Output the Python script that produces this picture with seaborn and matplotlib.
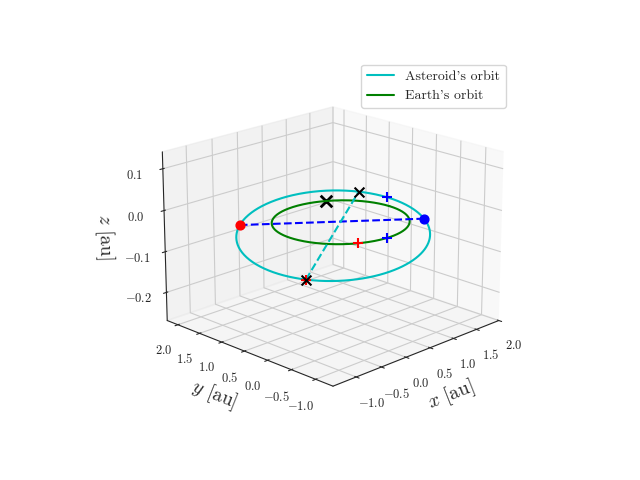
import numpy as np
import matplotlib
matplotlib.use('Agg')
import matplotlib.pyplot as plt
import seaborn as sns

sns.set_style('white')
plt.rcParams['font.family'] = 'serif'
plt.rcParams['font.serif'] = ['cmr10', 'DejaVu Serif']
plt.rcParams['mathtext.fontset'] = 'cm'
plt.rcParams['axes.formatter.use_mathtext'] = True

# orbital elements of the asteroid (au, degrees)
a_ast = 1.44
e_ast = 0.28
inc_ast = 1.2
node_ast = -40.0
peri_ast = 71.0
r_earth = 1.0

# marked positions (true anomaly for asteroid, longitude for earth)
nu_marks = [-25.0]          # blue + on asteroid orbit
earth_marks_red = [-120.0]  # red + on earth orbit
earth_marks_blue = [-93.0]  # blue + on earth orbit
earth_marks_x = [59.0]      # black x on earth orbit

def rot(x, y):
    O, w, i = np.radians(node_ast), np.radians(peri_ast), np.radians(inc_ast)
    cO, sO, cw, sw, ci, si = np.cos(O), np.sin(O), np.cos(w), np.sin(w), np.cos(i), np.sin(i)
    X = (cO*cw - sO*sw*ci)*x + (-cO*sw - sO*cw*ci)*y
    Y = (sO*cw + cO*sw*ci)*x + (-sO*sw + cO*cw*ci)*y
    Z = (sw*si)*x + (cw*si)*y
    return X, Y, Z

def ast_pos(nu):
    nu = np.radians(nu)
    r = a_ast*(1 - e_ast**2)/(1 + e_ast*np.cos(nu))
    return rot(r*np.cos(nu), r*np.sin(nu))

nu = np.linspace(0, 360, 400)
ax_, ay_, az_ = ast_pos(nu)
th = np.radians(nu)
ex, ey, ez = r_earth*np.cos(th), r_earth*np.sin(th), 0*th

fig = plt.figure(figsize=(6.4, 4.8))
ax = fig.add_subplot(projection='3d')
ax.plot(ax_, ay_, az_, color='c', label="Asteroid's orbit")
ax.plot(ex, ey, ez, color='g', label="Earth's orbit")

# line of nodes
nn = np.array([180 - peri_ast, -peri_ast])
nx, ny, nz = ast_pos(nn)
ax.plot(nx, ny, nz, 'b--')
ax.scatter(nx[0], ny[0], nz[0], color='r', s=40, depthshade=False)
ax.scatter(nx[1], ny[1], nz[1], color='b', s=40, depthshade=False)

# line of apsides
px, py, pz = ast_pos(np.array([180.0, 0.0]))
ax.plot(px, py, pz, 'c--')
ax.scatter(px[0], py[0], pz[0], color='r', marker='+', s=60, depthshade=False)
ax.scatter(px, py, pz, color='k', marker='x', s=50, linewidths=1.5, depthshade=False)

bx, by, bz = ast_pos(np.array(nu_marks))
ax.scatter(bx, by, bz, color='b', marker='+', s=60, depthshade=False)
t = np.radians(earth_marks_red)
ax.scatter(np.cos(t), np.sin(t), 0*t, color='r', marker='+', s=60, depthshade=False)
t = np.radians(earth_marks_blue)
ax.scatter(np.cos(t), np.sin(t), 0*t, color='b', marker='+', s=60, depthshade=False)
t = np.radians(earth_marks_x)
ax.scatter(np.cos(t), np.sin(t), 0*t, color='k', marker='x', s=70, linewidths=2, depthshade=False)

ax.set_xlim(-1.45, 2.0)
ax.set_ylim(-1.35, 2.25)
ax.set_zlim(-0.27, 0.14)
ax.set_xticks([-1.0, -0.5, 0.0, 0.5, 1.0, 1.5, 2.0])
ax.set_yticks([-1.0, -0.5, 0.0, 0.5, 1.0, 1.5, 2.0])
ax.set_zticks([-0.2, -0.1, 0.0, 0.1])
ax.tick_params(labelsize=9)
ax.set_xlabel('$x$ [au]', fontsize=14)
ax.set_ylabel('$y$ [au]', fontsize=14)
ax.set_zlabel('$z$ [au]', fontsize=14)
ax.view_init(elev=19, azim=-135)
ax.legend(loc='upper right', fontsize=10)
fig.savefig('out.png', dpi=100)
